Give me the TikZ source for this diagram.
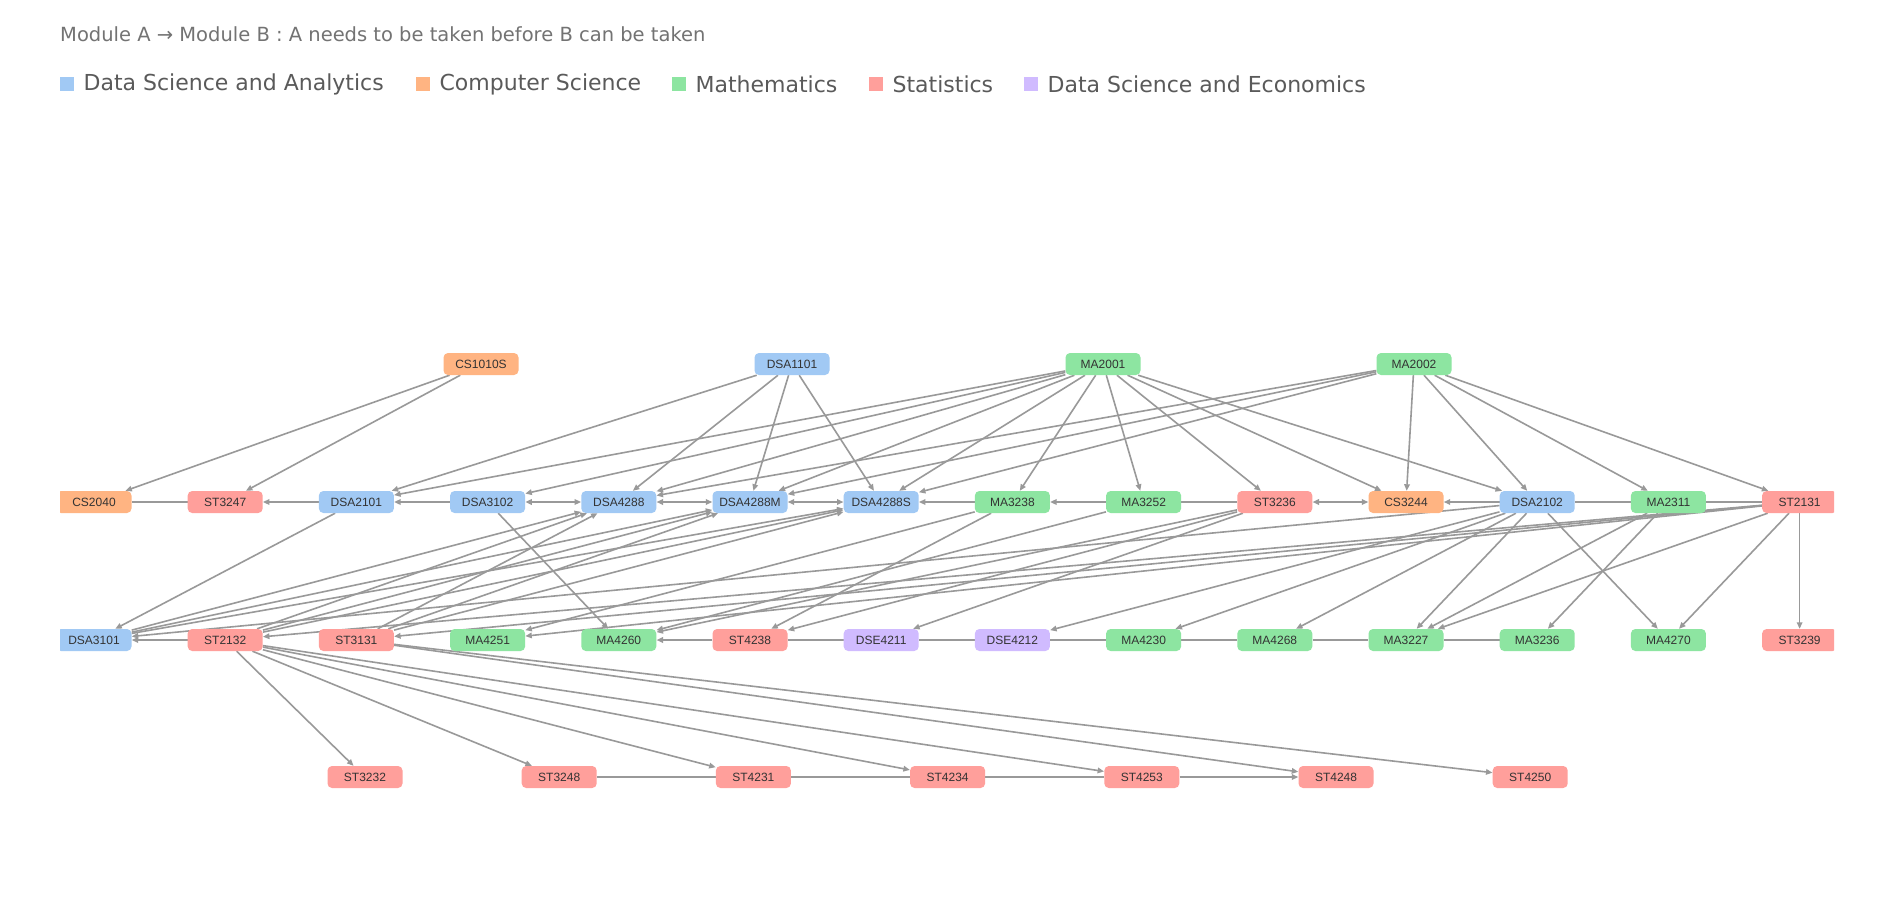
\documentclass[tikz,border=0pt]{standalone}
\usepackage{fontspec}
\setmainfont{Liberation Sans}
\newfontfamily\keyfont{DejaVu Sans}
\usetikzlibrary{arrows.meta}
\pgfdeclarelayer{bg}
\pgfsetlayers{bg,main}
\definecolor{dsa}{HTML}{A1C9F4}
\definecolor{cs}{HTML}{FFB482}
\definecolor{ma}{HTML}{8DE5A1}
\definecolor{st}{HTML}{FF9F9B}
\definecolor{dse}{HTML}{D0BBFF}
\definecolor{edgegray}{HTML}{999999}
\definecolor{keygray}{HTML}{5A5A5A}

\begin{document}
\begin{tikzpicture}[x=1pt, y=-1pt, >={Triangle[length=6.5pt, width=5.5pt]},
  mod/.style={rounded corners=4.5pt, minimum width=75pt, minimum height=22pt,
              inner sep=0pt, font=\fontsize{12}{12}\selectfont, text=black!80},
  edge/.style={draw=edgegray, line width=1.6pt},
  keybox/.style={minimum size=14pt, inner sep=0pt, anchor=west},
  keytext/.style={anchor=west, inner sep=0pt, text=keygray,
                  font=\keyfont\fontsize{22}{22}\selectfont}]
  \useasboundingbox (0,0) rectangle (1887,900);

  % title and legend
  \node[anchor=west, inner sep=0pt, text=keygray!85,
        font=\keyfont\fontsize{19.5}{19.5}\selectfont] (title) at (60,34)
    {Module A → Module B : A needs to be taken before B can be taken};
  \foreach \c/\t/\x in {dsa/Data Science and Analytics/60, cs/Computer Science/416,
                        ma/Mathematics/672, st/Statistics/869,
                        dse/Data Science and Economics/1024}{
    \node[keybox, fill=\c] (key\c) at (\x,84) {};
    \node[keytext] at ([xshift=9pt]key\c.east) {\t};
  }

  % modules, one row per level
  \begin{scope}
    \clip (60,0) rectangle (1834,900);
    \foreach \m/\c [count=\i from 0] in {CS1010S/cs, DSA1101/dsa, MA2001/ma, MA2002/ma}
      \node[mod, fill=\c] (\m) at ({481+311*\i}, 364) {\m};
    \foreach \m/\c [count=\i from 0] in {CS2040/cs, ST3247/st, DSA2101/dsa, DSA3102/dsa,
        DSA4288/dsa, DSA4288M/dsa, DSA4288S/dsa, MA3238/ma, MA3252/ma, ST3236/st,
        CS3244/cs, DSA2102/dsa, MA2311/ma, ST2131/st}
      \node[mod, fill=\c] (\m) at ({94+131.2*\i}, 502) {\m};
    \foreach \m/\c [count=\i from 0] in {DSA3101/dsa, ST2132/st, ST3131/st, MA4251/ma,
        MA4260/ma, ST4238/st, DSE4211/dse, DSE4212/dse, MA4230/ma, MA4268/ma,
        MA3227/ma, MA3236/ma, MA4270/ma, ST3239/st}
      \node[mod, fill=\c] (\m) at ({94+131.2*\i}, 640) {\m};
    \foreach \m [count=\i from 0] in {ST3232, ST3248, ST4231, ST4234, ST4253, ST4248, ST4250}
      \node[mod, fill=st] (\m) at ({365+194.2*\i}, 777) {\m};
  \end{scope}

  \begin{pgfonlayer}{bg}
    \fill[white] (0,0) rectangle (1887,900);
    % prerequisites across levels
    \foreach \a/\b in {CS1010S/CS2040, CS1010S/ST3247,
        DSA1101/DSA2101, DSA1101/DSA4288, DSA1101/DSA4288M, DSA1101/DSA4288S,
        MA2001/DSA2101, MA2001/DSA3102, MA2001/DSA4288, MA2001/DSA4288M,
        MA2001/DSA4288S, MA2001/MA3238, MA2001/MA3252, MA2001/ST3236,
        MA2001/CS3244, MA2001/DSA2102,
        MA2002/DSA4288, MA2002/DSA4288M, MA2002/DSA4288S, MA2002/CS3244,
        MA2002/DSA2102, MA2002/MA2311, MA2002/ST2131,
        DSA2101/DSA3101, DSA3102/MA4260, MA3238/ST4238, MA3238/MA4251,
        MA3252/MA4260, ST3236/ST4238, ST3236/MA4260, ST3236/DSE4211,
        DSA2102/DSA3101, DSA2102/DSE4212, DSA2102/MA4230, DSA2102/MA4268,
        DSA2102/MA3227, DSA2102/MA4270, MA2311/MA3227, MA2311/MA3236,
        ST2131/ST2132, ST2131/ST3131, ST2131/MA4251, ST2131/MA3227,
        ST2131/MA4270, ST2131/ST3239,
        DSA3101/DSA4288, DSA3101/DSA4288M, DSA3101/DSA4288S,
        ST2132/DSA4288, ST2132/DSA4288M, ST2132/DSA4288S,
        ST3131/DSA4288, ST3131/DSA4288M, ST3131/DSA4288S,
        ST2132/ST3232, ST2132/ST3248, ST2132/ST4231, ST2132/ST4234,
        ST2132/ST4253, ST3131/ST4248, ST3131/ST4250}
      \draw[edge, ->] (\a) -- (\b);
    % links along a level
    \foreach \a/\b in {CS2040/ST3247, MA3252/ST3236, DSA2102/MA2311, MA2311/ST2131,
        ST4238/DSE4211, DSE4211/DSE4212, DSE4212/MA4230, MA4230/MA4268,
        MA4268/MA3227, MA3227/MA3236, ST3248/ST4231, ST4231/ST4234, ST4234/ST4253}
      \draw[edge] (\a) -- (\b);
    \foreach \a/\b in {DSA2101/ST3247, DSA3102/DSA2101, MA3238/DSA4288S,
        MA3252/MA3238, DSA2102/CS3244, ST2132/DSA3101, ST4238/MA4260, ST4253/ST4248}
      \draw[edge, ->] (\a) -- (\b);
    \foreach \a/\b in {DSA3102/DSA4288, DSA4288/DSA4288M, DSA4288M/DSA4288S, ST3236/CS3244}
      \draw[edge, <->] (\a) -- (\b);
  \end{pgfonlayer}
\end{tikzpicture}
\end{document}
